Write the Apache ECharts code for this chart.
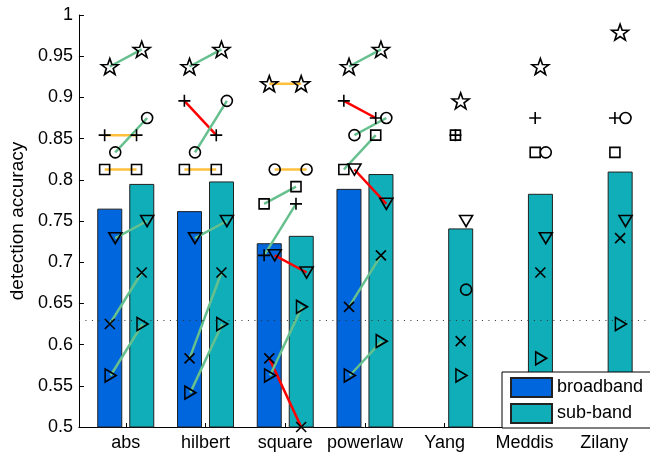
<!DOCTYPE html>
<html><head><meta charset="utf-8">
<script src="https://cdn.jsdelivr.net/npm/echarts@6/dist/echarts.min.js"></script>
<style>html,body{margin:0;padding:0;background:#fff}#c{width:650px;height:453px}</style>
</head><body><div id="c"></div>
<script>
// ---------- data ----------
const categories = ['abs', 'hilbert', 'square', 'powerlaw', 'Yang', 'Meddis', 'Zilany'];
const yTicks = [0.5, 0.55, 0.6, 0.65, 0.7, 0.75, 0.8, 0.85, 0.9, 0.95, 1];
const yTickLabels = ['0.5', '0.55', '0.6', '0.65', '0.7', '0.75', '0.8', '0.85', '0.9', '0.95', '1'];
const chanceLevel = 0.625;

const broadbandBars = [0.765, 0.762, 0.723, 0.789];
const subbandBars = [0.795, 0.798, 0.732, 0.807, 0.741, 0.783, 0.810];

// per-measure broadband values (first four methods only)
const bbStar     = [0.9375, 0.9375, 0.9167, 0.9375];
const bbPlus     = [0.8542, 0.8958, 0.7083, 0.8958];
const bbCircle   = [0.8333, 0.8333, 0.8125, 0.8542];
const bbSquare   = [0.8125, 0.8125, 0.7708, 0.8125];
const bbTriDown  = [0.7292, 0.7292, 0.7083, 0.8125];
const bbCross    = [0.6250, 0.5833, 0.5833, 0.6458];
const bbTriRight = [0.5625, 0.5417, 0.5625, 0.5625];

// per-measure sub-band values (all seven methods)
const sbStar     = [0.9583, 0.9583, 0.9167, 0.9583, 0.8958, 0.9375, 0.9792];
const sbPlus     = [0.8542, 0.8542, 0.7708, 0.8750, 0.8542, 0.8750, 0.8750];
const sbCircle   = [0.8750, 0.8958, 0.8125, 0.8750, 0.6667, 0.8333, 0.8750];
const sbSquare   = [0.8125, 0.8125, 0.7917, 0.8542, 0.8542, 0.8333, 0.8333];
const sbTriDown  = [0.7500, 0.7500, 0.6875, 0.7708, 0.7500, 0.7292, 0.7500];
const sbCross    = [0.6875, 0.6875, 0.5000, 0.7083, 0.6042, 0.6875, 0.7292];
const sbTriRight = [0.6250, 0.6250, 0.6458, 0.6042, 0.5625, 0.5833, 0.6250];

// ---------- styling / layout ----------
const FONT = '"Liberation Sans", Arial, Helvetica, sans-serif';
const BLUE = '#0066DD', TEAL = '#10AEB8';
const UP = '#66C08E', DOWN = '#FF0000', SAME = '#FFC03C';
const BAR_SHIFT = 0.2;           // bar centre offset from group centre (axis units)

function starPath() {
  let d = '';
  for (let i = 0; i < 10; i++) {
    const r = i % 2 === 0 ? 10 : 4.0;
    const a = -Math.PI / 2 + i * Math.PI / 5;
    const x = (10 + r * Math.cos(a)).toFixed(3), y = (10 + r * Math.sin(a)).toFixed(3);
    d += (i === 0 ? 'M' : 'L') + x + ',' + y + ' ';
  }
  return 'path://' + d + 'Z';
}

const markers = [
  { bb: bbStar,     sb: sbStar,     jit: 0,      symbol: starPath(), size: [17, 16] },
  { bb: bbPlus,     sb: sbPlus,     jit: -0.065, symbol: 'path://M0,6 L12,6 M6,0 L6,12', size: [12, 12] },
  { bb: bbCircle,   sb: sbCircle,   jit: 0.068,  symbol: 'circle', size: 11 },
  { bb: bbSquare,   sb: sbSquare,   jit: -0.065, symbol: 'rect', size: 10 },
  { bb: bbTriDown,  sb: sbTriDown,  jit: 0.068,  symbol: 'path://M0,0 L12,0 L6,10.4 Z', size: [13, 11] },
  { bb: bbCross,    sb: sbCross,    jit: 0,      symbol: 'path://M0,0 L10,10 M10,0 L0,10', size: [10, 10] },
  { bb: bbTriRight, sb: sbTriRight, jit: 0.01,   symbol: 'path://M0,0 L10.4,6 L0,12 Z', size: [11, 13] }
];

const series = [];

// chance level dotted line (behind bars)
series.push({
  type: 'line', data: [], z: 1, silent: true,
  markLine: {
    silent: true, symbol: 'none', animation: false,
    label: { show: false },
    lineStyle: { type: [1, 5.5], color: '#333', width: 1 },
    data: [{ yAxis: chanceLevel }]
  }
});

series.push({
  name: 'broadband', type: 'bar', z: 2,
  data: broadbandBars.map((v, i) => [i + 1, v]),
  barWidth: 25, barGap: '28%',
  itemStyle: { color: BLUE, borderColor: '#222', borderWidth: 1 }
});
series.push({
  name: 'sub-band', type: 'bar', z: 2,
  data: subbandBars.map((v, i) => [i + 1, v]),
  barWidth: 25, barGap: '28%',
  itemStyle: { color: TEAL, borderColor: '#222', borderWidth: 1 }
});

// connecting lines
markers.forEach(mk => {
  mk.bb.forEach((b, i) => {
    const s = mk.sb[i];
    const col = s > b + 1e-6 ? UP : (s < b - 1e-6 ? DOWN : SAME);
    series.push({
      type: 'line', z: 3, silent: true, symbol: 'none',
      data: [[i + 1 - BAR_SHIFT + mk.jit, b], [i + 1 + BAR_SHIFT + mk.jit, s]],
      lineStyle: { color: col, width: 2.5 }
    });
  });
});

// markers
markers.forEach(mk => {
  const pts = [];
  mk.bb.forEach((b, i) => pts.push([i + 1 - BAR_SHIFT + mk.jit, b]));
  mk.sb.forEach((s, i) => pts.push([i + 1 + BAR_SHIFT + mk.jit, s]));
  series.push({
    type: 'scatter', z: 4, silent: true,
    symbol: mk.symbol, symbolSize: mk.size,
    data: pts,
    itemStyle: { color: 'rgba(0,0,0,0)', borderColor: '#000', borderWidth: 1.6, opacity: 1 }
  });
});

const chart = echarts.init(document.getElementById('c'), null, { renderer: 'canvas' });
chart.setOption({
  animation: false,
  backgroundColor: '#fff',
  grid: { left: 77, right: 0, top: 15, bottom: 26 },
  xAxis: {
    type: 'value', min: 0.4125, max: 7.575,
    axisLine: { show: true, onZero: false, lineStyle: { color: '#000', width: 1 } },
    axisTick: { show: true, inside: true, length: 4, customValues: categories.map((c, i) => i + 1), lineStyle: { color: '#000' } },
    axisLabel: {
      customValues: categories.map((c, i) => i + 1),
      formatter: v => categories[Math.round(v) - 1] || '',
      color: '#000', fontSize: 18, fontFamily: FONT, margin: 7
    },
    splitLine: { show: false }
  },
  yAxis: {
    type: 'value', min: 0.5, max: 1, interval: 0.05,
    name: 'detection accuracy', nameLocation: 'middle', nameGap: 50, nameRotate: 90,
    nameTextStyle: { color: '#000', fontSize: 19, fontFamily: FONT },
    axisLine: { show: true, lineStyle: { color: '#000', width: 1 } },
    axisTick: { show: true, inside: true, length: 5, lineStyle: { color: '#000' } },
    axisLabel: {
      color: '#000', fontSize: 18, fontFamily: FONT, margin: 6,
      formatter: v => { const k = yTicks.findIndex(t => Math.abs(t - v) < 1e-6); return k >= 0 ? yTickLabels[k] : ''; }
    },
    splitLine: { show: false }
  },
  legend: {
    data: ['broadband', 'sub-band'], orient: 'vertical',
    left: 502, top: 372,
    itemWidth: 41, itemHeight: 19, itemGap: 5,
    padding: [5, 40, 4, 8],
    backgroundColor: '#fff', borderColor: '#000', borderWidth: 1, borderRadius: 0,
    icon: 'rect',
    textStyle: { color: '#000', fontSize: 18, fontFamily: FONT },
    selectedMode: false
  },
  series: series
});
</script></body></html>
